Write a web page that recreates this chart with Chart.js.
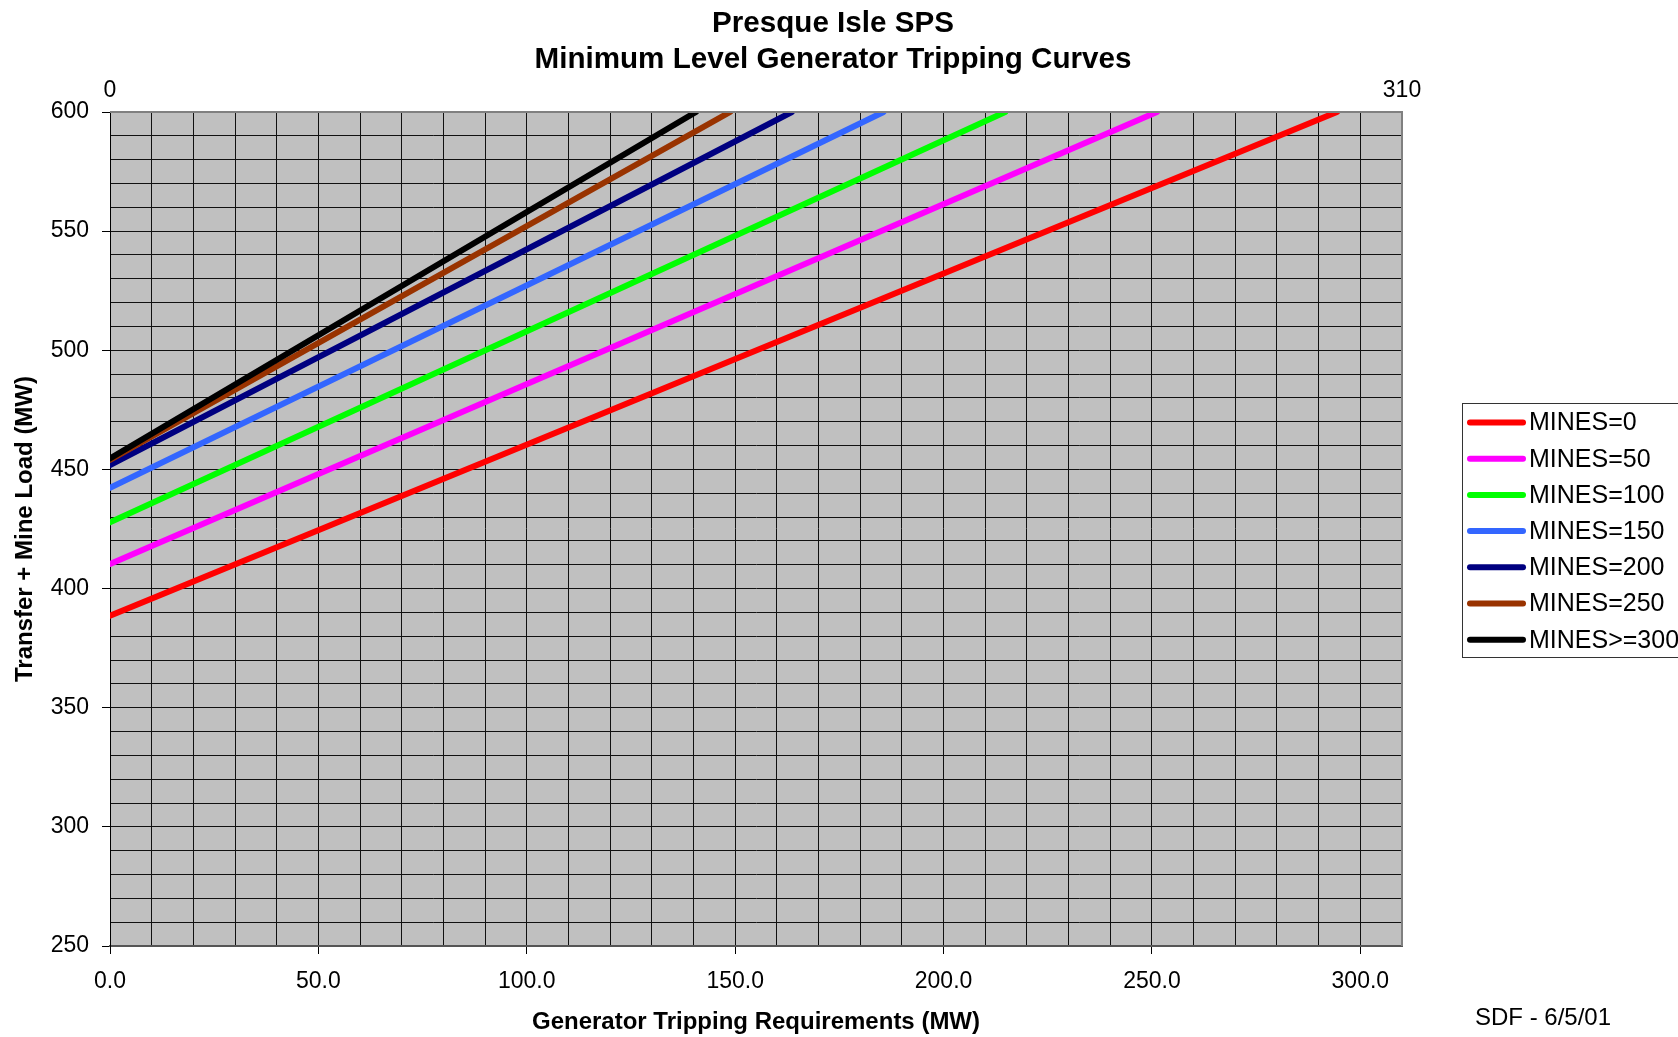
<!DOCTYPE html>
<html>
<head>
<meta charset="utf-8">
<script src="https://cdn.jsdelivr.net/npm/chart.js@4"></script>
<style>
html,body{margin:0;padding:0;background:#fff;}
#wrap{width:1678px;height:1037px;}
</style>
</head>
<body>
<div id="wrap"><canvas id="c" width="1678" height="1037"></canvas></div>
<script>
// ---- data ----
const seriesLabels = ['MINES=0','MINES=50','MINES=100','MINES=150','MINES=200','MINES=250','MINES>=300'];
const startTrip = [0, 0, 0, 0, 0, 0, 0];
const startLoad = [388.6, 410.3, 427.8, 442.3, 451.8, 454.0, 454.6];
const endTrip = [294.4, 251.2, 214.8, 185.6, 163.6, 148.8, 140.6];
const endLoad = [600, 600, 600, 600, 600, 600, 600];
const xLabelValues = [0, 50, 100, 150, 200, 250, 300];
const yLabelValues = [250, 300, 350, 400, 450, 500, 550, 600];
const topLabelValues = [0, 310];
const titleLines = ['Presque Isle SPS', 'Minimum Level Generator Tripping Curves'];
const xTitle = 'Generator Tripping Requirements (MW)';
const yTitle = 'Transfer + Mine Load (MW)';
const footnote = 'SDF - 6/5/01';

// ---- styles ----
const seriesColors = ['#FF0000','#FF00FF','#00FF00','#3366FF','#000080','#993300','#000000'];
const FONT = "'Liberation Sans', Arial, Helvetica, sans-serif";
Chart.defaults.font.family = FONT;
Chart.defaults.color = '#000';

const datasets = seriesLabels.map((lab, i) => ({
  label: lab,
  data: [{x: startTrip[i], y: startLoad[i]}, {x: endTrip[i], y: endLoad[i]}],
  borderColor: seriesColors[i],
  backgroundColor: seriesColors[i],
  borderWidth: 6,
  borderCapStyle: 'round',
  pointRadius: 0,
  fill: false,
  tension: 0,
  order: seriesLabels.length - 1 - i
}));

const decor = {
  id: 'decor',
  beforeDraw(chart) {
    const {ctx, chartArea: a} = chart;
    ctx.save();
    ctx.fillStyle = '#C0C0C0';
    ctx.fillRect(a.left, a.top, a.right - a.left, a.bottom - a.top);
    ctx.restore();
  },
  afterDatasetsDraw(chart) {
    const {ctx, chartArea: a} = chart;
    ctx.save();
    ctx.strokeStyle = '#808080';
    ctx.lineWidth = 2;
    ctx.beginPath();
    ctx.moveTo(a.left, a.top);
    ctx.lineTo(a.right, a.top);
    ctx.lineTo(a.right, a.bottom);
    ctx.stroke();
    ctx.restore();
  },
  afterDraw(chart) {
    const {ctx} = chart;
    ctx.save();
    // title
    ctx.fillStyle = '#000';
    ctx.textAlign = 'center';
    ctx.textBaseline = 'middle';
    ctx.font = 'bold 29.6px ' + FONT;
    ctx.fillText(titleLines[0], 833, 24);
    ctx.fillText(titleLines[1], 833, 60);
    // legend
    const lx = 1462, ly = 403, lw = 240, lh = 254;
    ctx.strokeStyle = '#333';
    ctx.lineWidth = 1;
    ctx.strokeRect(lx + 0.5, ly + 0.5, lw, lh);
    ctx.font = '25px ' + FONT;
    ctx.textAlign = 'left';
    chart.data.datasets.forEach((ds, i) => {
      const y = 422.5 + i * 36.2;
      ctx.strokeStyle = ds.borderColor;
      ctx.lineWidth = 6;
      ctx.lineCap = 'round';
      ctx.beginPath();
      ctx.moveTo(1470, y);
      ctx.lineTo(1523, y);
      ctx.stroke();
      ctx.fillStyle = '#000';
      ctx.fillText(ds.label, 1529, y + 1);
    });
    // footnote
    ctx.font = '24px ' + FONT;
    ctx.fillText(footnote, 1475, 1018);
    ctx.restore();
  }
};

const tickMarkColor = (ctx, step) => (ctx.tick && Math.abs(ctx.tick.value % step) < 1e-6) ? '#000' : 'rgba(0,0,0,0)';

new Chart(document.getElementById('c'), {
  type: 'line',
  data: {datasets},
  options: {
    responsive: false,
    devicePixelRatio: 1,
    animation: false,
    events: [],
    layout: {padding: {left: 0, right: 276, top: 0, bottom: 0}},
    plugins: {legend: {display: false}, title: {display: false}, tooltip: {enabled: false}},
    scales: {
      x: {
        type: 'linear', position: 'bottom', min: 0, max: 310,
        afterFit(s) { s.height = 91; },
        grid: {color: '#111', lineWidth: 1, drawTicks: true, tickLength: 8, tickColor: c => tickMarkColor(c, 50)},
        border: {display: true, color: '#555', width: 2},
        ticks: {
          stepSize: 10, autoSkip: false, maxRotation: 0, padding: 14,
          font: {size: 23},
          callback: v => xLabelValues.includes(v) ? v.toFixed(1) : ''
        },
        title: {display: true, text: xTitle, font: {size: 24, weight: 'bold'}, padding: {top: 0, bottom: 0}}
      },
      x2: {
        type: 'linear', position: 'top', min: 0, max: 310,
        afterFit(s) { s.height = 112; },
        afterBuildTicks(s) { s.ticks = topLabelValues.map(v => ({value: v})); },
        grid: {display: false},
        border: {display: false},
        ticks: {autoSkip: false, maxRotation: 0, padding: 0, font: {size: 23}, callback: v => String(v)}
      },
      y: {
        type: 'linear', position: 'left', min: 250, max: 600,
        afterFit(s) { s.width = 110; },
        grid: {color: '#111', lineWidth: 1, drawTicks: true, tickLength: 8, tickColor: c => tickMarkColor(c, 50)},
        border: {display: true, color: '#000', width: 1},
        ticks: {
          stepSize: 10, autoSkip: false, padding: 13,
          font: {size: 23},
          callback: v => yLabelValues.includes(v) ? String(v) : ''
        },
        title: {display: true, text: yTitle, font: {size: 24, weight: 'bold'}, padding: {top: 11, bottom: 0}}
      }
    }
  },
  plugins: [decor]
});
</script>
</body>
</html>
